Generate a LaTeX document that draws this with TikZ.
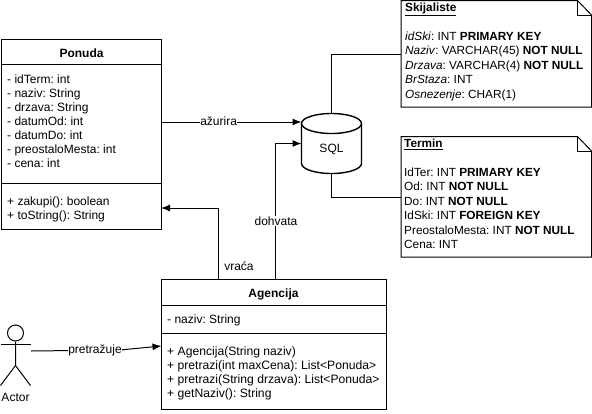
\documentclass[tikz,border=0pt]{standalone}
\usepackage{fontspec}
\setmainfont{Liberation Sans}
\usetikzlibrary{arrows.meta}
\AtBeginDocument{\frenchspacing}
\tikzset{
  x=1pt,y=-1pt,
  every node/.style={font=\fontsize{12}{14}\selectfont},
  line/.style={draw=black,line width=1pt},
  arrowline/.style={line,-{Latex[length=9pt,width=7pt]}},
  umlbox/.style={line,anchor=north west,inner sep=0pt,outer sep=0pt},
  ghost/.style={anchor=north west,inner sep=0pt,outer sep=0pt},
  classtext/.style={anchor=north west,inner sep=0pt,align=left,font=\fontsize{12}{14}\selectfont},
  methodtext/.style={anchor=north west,inner sep=0pt,align=left,font=\fontsize{12.15}{14}\selectfont},
  notetext/.style={anchor=north west,inner sep=0pt,align=left,font=\fontsize{11.8}{14.4}\selectfont},
  title/.style={font=\fontsize{12}{14}\selectfont\bfseries,inner sep=0pt},
  lbl/.style={fill=white,inner sep=0.5pt}
}
\begin{document}
\begin{tikzpicture}
\useasboundingbox (0,0) rectangle (592,413);
\fill[white] (0,0) rectangle (592,413);
% Ponuda
\node[umlbox,minimum width=159.5pt,minimum height=190pt] (ponuda) at (1.5,39) {};
\draw[line] (1.5,64.5) -- (161,64.5);
\draw[line] (1.5,183.5) -- (161,183.5);
\node[title] (ponudat) at (81.5,53.5) {Ponuda};
\node[classtext] (ponudaa) at (7,74.5) {- idTerm: int\\- naziv: String\\- drzava: String\\- datumOd: int\\- datumDo: int\\- preostaloMesta: int\\- cena: int};
\node[classtext] (ponudam) at (7,196.5) {+ zakupi(): boolean\\+ toString(): String};
% Agencija
\node[umlbox,minimum width=225pt,minimum height=130pt] (agencija) at (161.5,279.5) {};
\draw[line] (161.5,305.5) -- (386.5,305.5);
\draw[line] (161.5,333.5) -- (386.5,333.5);
\node[title] (agencijat) at (273.5,294) {Agencija};
\node[classtext] (agencijaa) at (167,314.5) {- naziv: String};
\node[methodtext] (agencijam) at (167,346.5) {+ Agencija(String naziv)\\+ pretrazi(int maxCena): List<Ponuda>\\+ pretrazi(String drzava): List<Ponuda>\\+ getNaziv(): String};
% SQL
\node[ghost,minimum width=60pt,minimum height=60pt] (sql) at (301.5,113.5) {};
\draw[line,line width=1.4pt,fill=white] (301.5,123.5) arc[start angle=180,end angle=0,x radius=30pt,y radius=10pt] -- (361.5,163.5) arc[start angle=0,end angle=-180,x radius=30pt,y radius=10pt] -- cycle;
\draw[line,line width=1.4pt] (301.5,123.5) arc[start angle=180,end angle=360,x radius=30pt,y radius=10pt];
\node[inner sep=0pt] (sqlt) at (331.5,149) {SQL};
% Notes
\node[ghost,minimum width=190.5pt,minimum height=106.5pt] (ski) at (401,0.5) {};
\draw[line,fill=white] (401,0.5) -- (577.5,0.5) -- (591.5,15) -- (591.5,107) -- (401,107) -- cycle;
\draw[line] (577.5,0.5) -- (577.5,15) -- (591.5,15);
\node[notetext] (skit) at (405,3) {\textbf{\underline{Skijaliste}}\\ \\ \textit{idSki}: INT \textbf{PRIMARY KEY}\\\textit{Naziv}: VARCHAR(45) \textbf{NOT NULL}\\\textit{Drzava}: VARCHAR(4) \textbf{NOT NULL}\\\textit{BrStaza}: INT\\\textit{Osnezenje}: CHAR(1)};
\node[ghost,minimum width=190.5pt,minimum height=120.5pt] (ter) at (401,136.5) {};
\draw[line,fill=white] (401,136.5) -- (577.5,136.5) -- (591.5,151) -- (591.5,257) -- (401,257) -- cycle;
\draw[line] (577.5,136.5) -- (577.5,151) -- (591.5,151);
\node[notetext] (tert) at (404,139) {\textbf{\underline{Termin}}\\ \\IdTer: INT \textbf{PRIMARY KEY}\\Od: INT \textbf{NOT NULL}\\Do: INT \textbf{NOT NULL}\\IdSki: INT \textbf{FOREIGN KEY}\\PreostaloMesta: INT \textbf{NOT NULL}\\Cena: INT};
% Actor
\node[circle,line,minimum size=16pt,inner sep=0pt] (actor) at (15.5,333) {};
\draw[line] (actor.south) -- ++(0,24) coordinate (hip) -- ++(-15,20);
\draw[line] (hip) -- ++(15,20);
\draw[line] (0.5,344) -- (30.5,344);
\node[inner sep=0pt] (actorl) at (15.5,397) {Actor};
% Connectors
\draw[arrowline] ([yshift=12pt]ponuda.east) -- node[lbl,pos=0.41,yshift=1pt] {ažurira} (sql.west |- 0,122);
\draw[arrowline] ([xshift=-56pt]agencija.north) |- (ponuda.east |- 0,208);
\node[lbl] (vraca) at (239,266) {vraća};
\draw[arrowline] ([xshift=1pt]agencija.north) |- (sql.west |- 0,143.5);
\node[lbl] (dohvata) at (276,221) {dohvata};
\draw[line] (sql.north) |- (ski.west |- 0,54.5);
\draw[line] (sql.south) |- (ter.west |- 0,197.5);
\draw[arrowline] (31,351) -- (120,350) -- (agencija.west |- 0,346);
\node[lbl] (pret) at (95,350) {pretražuje};
\end{tikzpicture}
\end{document}
